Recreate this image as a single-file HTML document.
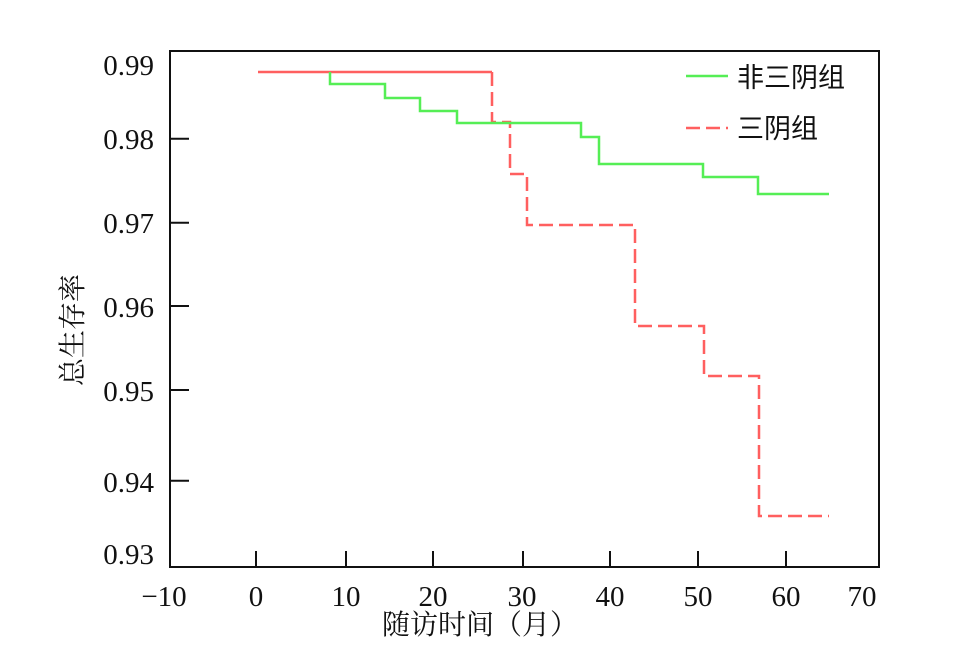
<!DOCTYPE html>
<html><head><meta charset="utf-8"><style>
html,body{margin:0;padding:0;background:#fff;}
</style></head><body>
<svg width="955" height="655" xmlns="http://www.w3.org/2000/svg" style="display:block">
<rect width="955" height="655" fill="#fff"/>
<g font-family="Liberation Serif, serif" font-size="29" fill="#111">
<rect x="170" y="51" width="709" height="516" fill="none" stroke="#111" stroke-width="2"/>
<g stroke="#111" stroke-width="2">
<line x1="170" y1="138.7" x2="189" y2="138.7"/>
<line x1="170" y1="222.7" x2="189" y2="222.7"/>
<line x1="170" y1="306" x2="189" y2="306"/>
<line x1="170" y1="390" x2="189" y2="390"/>
<line x1="170" y1="480.7" x2="189" y2="480.7"/>
<line x1="256" y1="567" x2="256" y2="551"/>
<line x1="346" y1="567" x2="346" y2="551"/>
<line x1="433" y1="567" x2="433" y2="551"/>
<line x1="523" y1="567" x2="523" y2="551"/>
<line x1="610" y1="567" x2="610" y2="551"/>
<line x1="698" y1="567" x2="698" y2="551"/>
<line x1="786" y1="567" x2="786" y2="551"/>
</g>
<g text-anchor="end">
<text x="154" y="75">0.99</text>
<text x="154" y="149">0.98</text>
<text x="154" y="233">0.97</text>
<text x="154" y="317">0.96</text>
<text x="154" y="401">0.95</text>
<text x="154" y="492">0.94</text>
<text x="154" y="564">0.93</text>
</g>
<g text-anchor="middle">
<text x="164" y="606">−10</text>
<text x="256" y="606">0</text>
<text x="346" y="606">10</text>
<text x="433" y="606">20</text>
<text x="522" y="606">30</text>
<text x="610" y="606">40</text>
<text x="698" y="606">50</text>
<text x="786" y="606">60</text>
<text x="862" y="606">70</text>
</g>
<text x="480" y="634" text-anchor="middle" font-family="'Noto Serif CJK SC', serif" font-size="28">随访时间（月）</text>
<text transform="translate(82,330) rotate(-90)" text-anchor="middle" font-family="'Noto Serif CJK SC', serif" font-size="28">总生存率</text>
</g>
<polyline fill="none" stroke="#ff5f5f" stroke-width="2.5"
 points="258,72 492,72"/>
<polyline fill="none" stroke="#ff5f5f" stroke-width="2.5" stroke-dasharray="14,6"
 points="492,72 492,122 510,122 510,174 527,174 527,225 635,225 635,326 704,326 704,376 759,376 759,516 829,516"/>
<polyline fill="none" stroke="#55ee55" stroke-width="2.5"
 points="330,72 330,84 385,84 385,98 420,98 420,111 457,111 457,123 581,123 581,137 599,137 599,164 703,164 703,177 758,177 758,194 829,194"/>
<line x1="686" y1="76" x2="728" y2="76" stroke="#55ee55" stroke-width="2.5"/>
<line x1="686" y1="128" x2="728" y2="128" stroke="#ff5f5f" stroke-width="2.5" stroke-dasharray="14,6"/>
<g font-family="'Noto Sans CJK SC', sans-serif" font-size="27" fill="#111">
<text x="737" y="87">非三阴组</text>
<text x="737" y="138">三阴组</text>
</g>
</svg>
</body></html>
